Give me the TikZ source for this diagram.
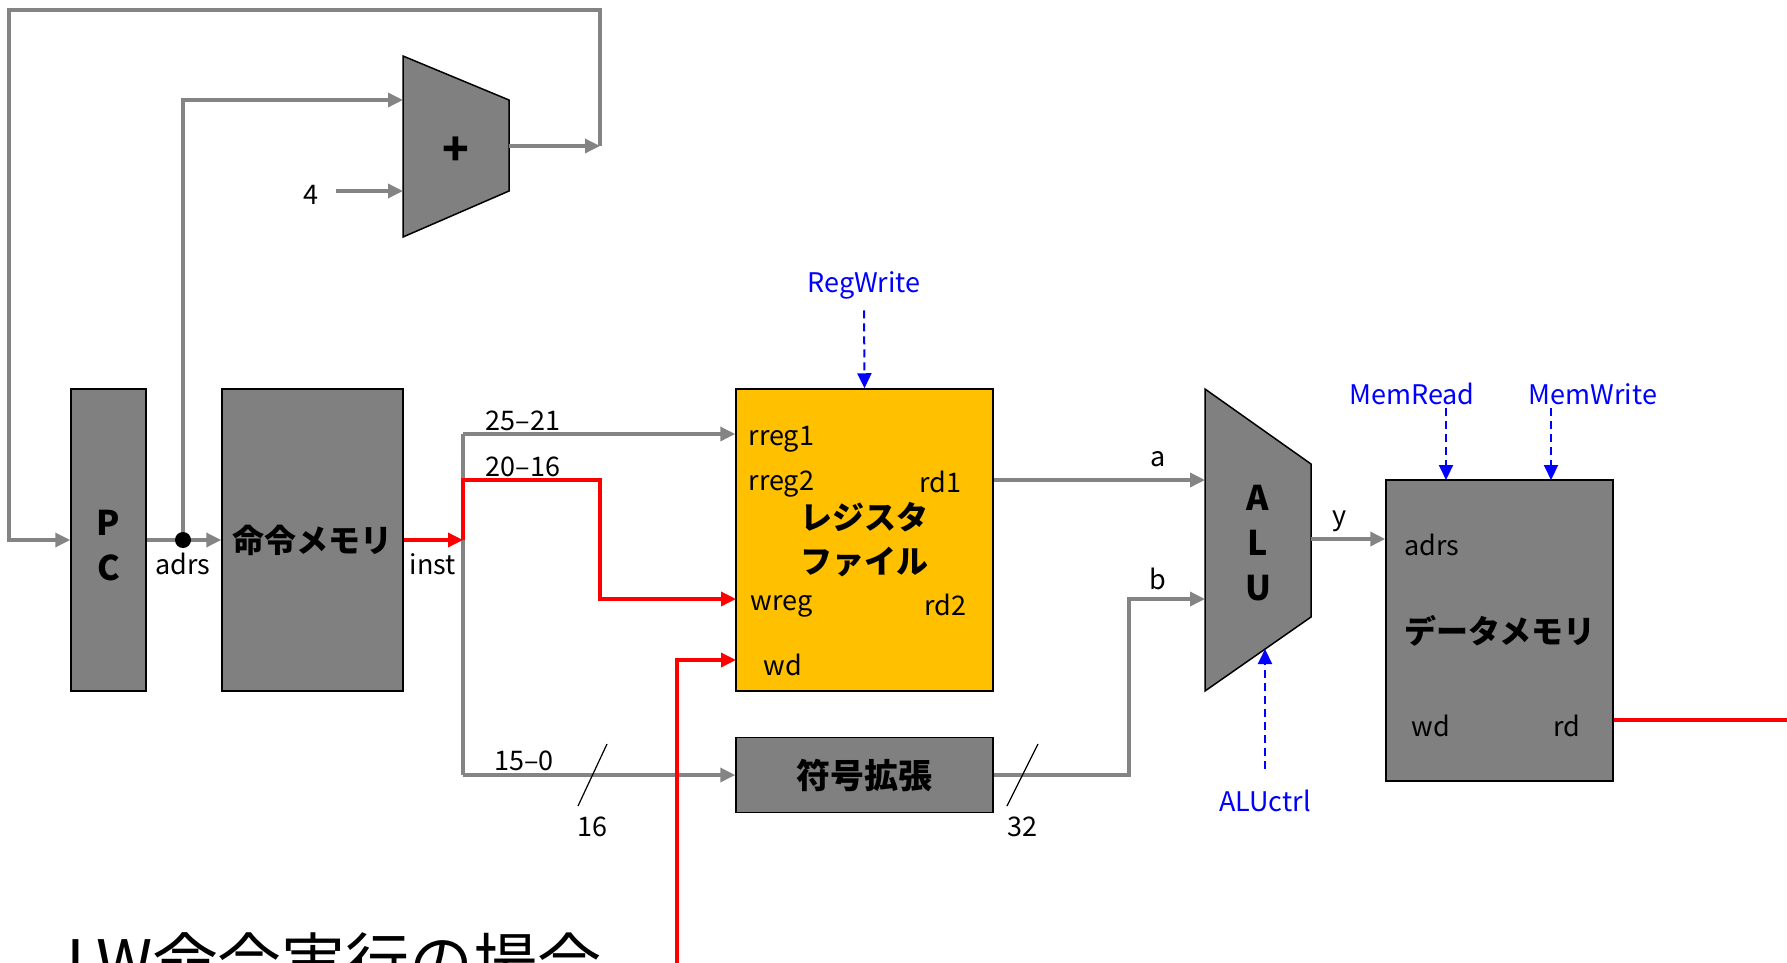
\documentclass[tikz,border=0pt]{standalone}
\usepackage{fontspec}
\newfontfamily\jpfont{Noto Sans CJK JP}
\usetikzlibrary{arrows.meta}
\definecolor{unitgray}{HTML}{808080}
\definecolor{wiregray}{HTML}{848484}
\definecolor{rfyellow}{HTML}{FFC000}
\newcommand\lblfont{\jpfont\fontsize{27}{32}\selectfont}
\newcommand\unitfont{\jpfont\bfseries\fontsize{32}{44}\selectfont}
\newcommand\titlefont{\jpfont\fontsize{64}{72}\selectfont}

\begin{document}
\begin{tikzpicture}[x=1pt, y=-1pt, >={Triangle[length=15pt,width=14pt]},
  every node/.style={font=\lblfont},
  unit/.style={draw=black, line width=1.5pt, fill=unitgray, font=\unitfont, align=center},
  wire/.style={draw=wiregray, line width=3.4pt},
  rwire/.style={draw=red, line width=3.4pt},
  ctl/.style={draw=blue, line width=2pt, dash pattern=on 8pt off 5pt},
  ctllbl/.style={text=blue},
  slash/.style={draw=black, line width=1.2pt}]

  \useasboundingbox (0,0) rectangle (1787,962);
  \clip (0,0) rectangle (1787,962);

  % --- rows ---
  \def\ymain{540}
  \def\ybus{434}
  \def\yext{775}

  % ============================================================
  % blocks
  % ============================================================
  \node[unit, minimum width=75, minimum height=302] (pc) at (108.5,\ymain) {};
  \node[font=\jpfont\bfseries\fontsize{34}{45}\selectfont, align=center] (pclbl) at (108.5,546) {P\\C};
  \node[unit, minimum width=181, minimum height=302] (imem) at (312.5,\ymain) {命令メモリ};
  \node[unit, fill=rfyellow, minimum width=257, minimum height=302] (regfile) at (864.5,\ymain) {レジスタ\\ファイル};
  \node[unit, minimum width=257, minimum height=75, font=\jpfont\bfseries\fontsize{34}{40}\selectfont] (signext) at (864.5,\yext) {符号拡張};
  \node[unit, minimum width=227, minimum height=301] (dmem) at (1499.5,630.5) {データメモリ};

  % adder
  \draw[unit] (403,56) -- (509,100) -- (509,191) -- (403,237) -- cycle;
  \node[font=\jpfont\bfseries\fontsize{44}{44}\selectfont] (adder) at (456,151) {+};
  \coordinate (add-in1) at (403,100);
  \coordinate (add-in2) at (403,191);
  \coordinate (add-out) at (509,146);

  % ALU
  \draw[unit] (1205,389) -- (1311,464) -- (1311,617) -- (1205,691) -- cycle;
  \node[font=\jpfont\bfseries\fontsize{34}{45}\selectfont, align=center] (alu) at (1258,543) {A\\L\\U};
  \coordinate (alu-a) at (1205,480);
  \coordinate (alu-b) at (1205,599);
  \coordinate (alu-y) at (1311,539);
  \coordinate (alu-ctl) at (1265,649);

  % ports
  \node[anchor=west] (rreg1) at (745,439) {rreg1};
  \node[anchor=west] (rreg2) at (745,484) {rreg2};
  \node[anchor=east] (rd1) at (965,482) {rd1};
  \node[anchor=west] (wreg) at (747,606) {wreg};
  \node[anchor=east] (rd2) at (970,605) {rd2};
  \node[anchor=west] (rfwd) at (760,665) {wd};
  \node[anchor=west] (dmadrs) at (1401,545) {adrs};
  \node (dmwd) at (1431,726) {wd};
  \node (dmrd) at (1567,726) {rd};

  % ============================================================
  % datapath wires
  % ============================================================
  \coordinate (pcnext) at (600,146);
  \coordinate (loop-tr) at (600,10);
  \coordinate (loop-tl) at (9,10);
  \coordinate (adrs-jn) at (183,\ymain);
  \coordinate (bus-top) at (463,\ybus);
  \coordinate (bus-mid) at (463,\ymain);
  \coordinate (bus-rt) at (463,480);
  \coordinate (bus-bot) at (463,\yext);
  \coordinate (rt-bend) at (600,480);
  \coordinate (rf-wreg) at (736,599);
  \coordinate (rf-wd) at (736,660);
  \coordinate (wd-src) at (677,975);
  \coordinate (b-bend) at (1129,\yext);
  \coordinate (rd-out) at (1800,720);

  \draw[wire,->] (add-out) -- (pcnext);
  \draw[wire,->] (pcnext) -- (loop-tr) -- (loop-tl) |- (pc.west);
  \draw[wire,->] (pc.east) -- (imem.west);
  \draw[wire,->] (adrs-jn) |- (add-in1);

  \node (four) at (311,195) {4};
  \draw[wire,->, shorten <=14pt] (four.east |- add-in2) -- (add-in2);

  \draw[wire] (bus-top) -- (bus-bot);
  \draw[wire,->] (bus-top) -- (bus-top -| regfile.west);
  \draw[wire,->] (bus-bot) -- (signext.west);
  \draw[rwire,->] (imem.east) -- (bus-mid);
  \draw[rwire,->] (bus-mid) -- (bus-rt) -- (rt-bend) |- (rf-wreg);
  \draw[rwire,->] (wd-src) |- (rf-wd);

  \draw[wire,->] (regfile.east |- alu-a) -- (alu-a);
  \draw[wire,->] (signext.east) -- (b-bend) |- (alu-b);
  \draw[wire,->] (alu-y) -- (alu-y -| dmem.west);
  \draw[rwire] (dmem.east |- rd-out) -- (rd-out);

  \node[circle, fill=black, inner sep=0pt, minimum size=16pt] (dot) at (adrs-jn) {};

  % bit widths
  \draw[slash] (578,806) -- (607,744);
  \draw[slash] (1007,806) -- (1038,744);

  % --- labels ---
  \node (adrs) at (183,564) {adrs};
  \node (inst) at (433,564) {inst};
  \node (f2521) at (523,421) {25–21};
  \node (f2016) at (523,467) {20–16};
  \node (f150) at (524,761) {15–0};
  \node (w16) at (592,827) {16};
  \node (w32) at (1022,827) {32};
  \node (la) at (1158,459) {a};
  \node (lb) at (1158,579) {b};
  \node (ly) at (1340,521) {y};

  % ============================================================
  % control signals
  % ============================================================
  \node[ctllbl] (regwrite) at (864,285) {RegWrite};
  \node[ctllbl] (memread) at (1412,394) {MemRead};
  \node[ctllbl] (memwrite) at (1593,394) {MemWrite};
  \node[ctllbl] (aluctrl) at (1265,801) {ALUctrl};
  \coordinate (dm-mr) at (1446,480);
  \coordinate (dm-mw) at (1551,480);

  \draw[ctl,->, shorten <=8pt] (regwrite.south) -- (regfile.north);
  \draw[ctl,->] (dm-mr |- memread.south) -- (dm-mr);
  \draw[ctl,->] (dm-mw |- memwrite.south) -- (dm-mw);
  \draw[ctl,->, shorten <=18pt] (aluctrl.north -| alu-ctl) -- (alu-ctl);

  % title
  \node[font=\titlefont, anchor=base west, inner sep=0pt] (title) at (66,986) {LW命令実行の場合};

\end{tikzpicture}
\end{document}
